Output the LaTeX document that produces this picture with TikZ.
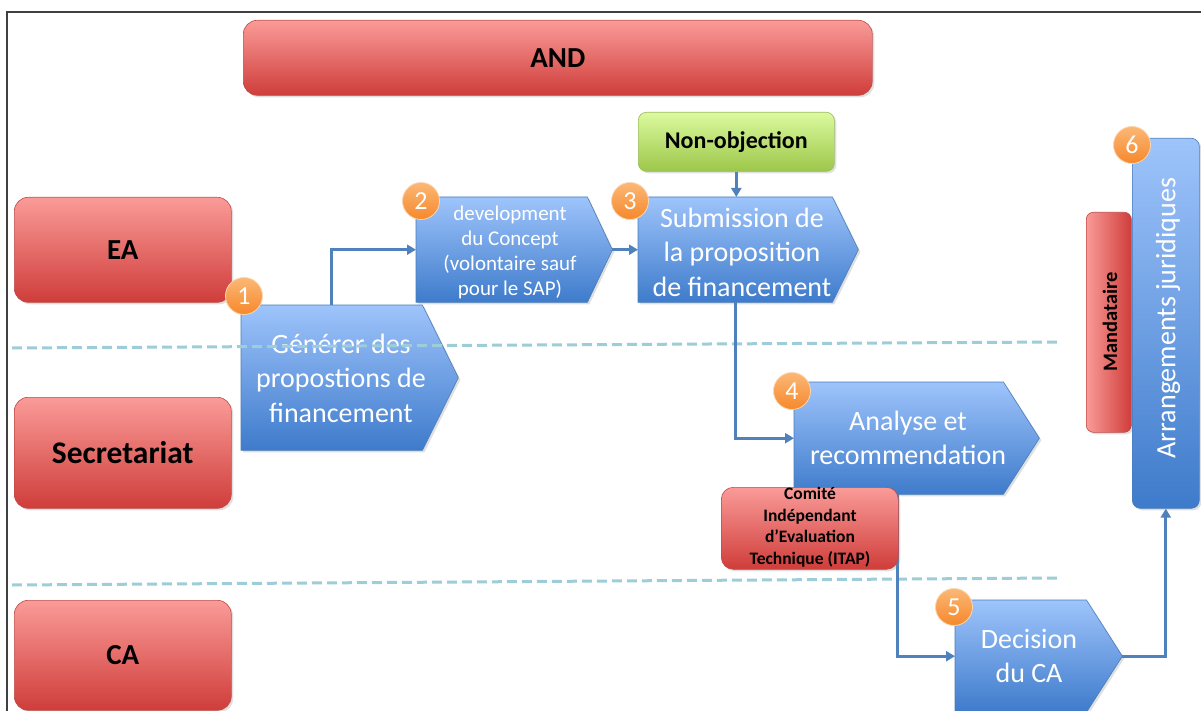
\documentclass[tikz,border=0pt]{standalone}
\usepackage{fontspec}
\usepackage{graphicx}
\setmainfont{Carlito}
\usetikzlibrary{arrows.meta,shadows,calc}
\definecolor{redtop}{RGB}{250,155,152}
\definecolor{redbot}{RGB}{207,61,58}
\definecolor{redline}{RGB}{190,75,72}
\definecolor{bluetop}{RGB}{158,196,251}
\definecolor{bluebot}{RGB}{62,123,203}
\definecolor{blueline}{RGB}{74,125,186}
\definecolor{greentop}{RGB}{219,250,158}
\definecolor{greenbot}{RGB}{157,199,74}
\definecolor{greenline}{RGB}{155,187,89}
\definecolor{badgetop}{RGB}{251,184,118}
\definecolor{badgebot}{RGB}{246,136,44}
\definecolor{badgeline}{RGB}{252,214,176}
\definecolor{flowblue}{RGB}{79,129,189}
\definecolor{dashcol}{RGB}{157,205,216}
\definecolor{framecol}{RGB}{64,64,64}
\tikzset{
  shad/.style={drop shadow={opacity=0.25, shadow xshift=2pt, shadow yshift=-2pt}},
  lane/.style={rounded corners=14pt, draw=redline, line width=0.6pt, top color=redtop, bottom color=redbot, shad,
    font=\fontsize{29}{34}\selectfont\bfseries, inner sep=0pt, anchor=north west},
  body/.style={inner sep=0pt, anchor=north west},
  blueshape/.style={draw=blueline, line width=0.6pt, top color=bluetop, bottom color=bluebot, shad},
  bluetext/.style={text=white, align=center, font=\fontsize{28}{34.5}\selectfont},
  smalltext/.style={text=white, align=center, font=\fontsize{21}{25}\selectfont},
  badge/.style={circle, minimum size=37pt, inner sep=0pt, top color=badgetop, bottom color=badgebot,
    draw=badgeline, line width=0.8pt, text=white, font=\fontsize{26}{26}\selectfont},
  flow/.style={draw=flowblue, line width=3pt, -{Triangle[length=9pt,width=10pt]}},
  lanesep/.style={draw=dashcol, line width=3pt, dash pattern=on 10pt off 5pt},
}
\begin{document}
\begin{tikzpicture}[x=1pt,y=-1pt]
\useasboundingbox (0,0) rectangle (1201,711);
% frame
\draw[framecol, line width=1.3pt] (7,711) -- (7,12) -- (1201,12);
% lanes
\node[lane, minimum width=629pt, minimum height=75pt] (and) at (243,20) {AND};
\node[lane, minimum width=217pt, minimum height=105pt] (ea) at (14,197) {EA};
\node[lane, minimum width=217pt, minimum height=111pt, font=\fontsize{31.5}{36}\selectfont\bfseries] (sec) at (14,397) {Secretariat};
\node[lane, minimum width=217pt, minimum height=110pt] (ca) at (14,600) {CA};
% box 1
\node[body, minimum width=181pt, minimum height=145pt] (b1) at (241,305) {};
\path[blueshape] (b1.north west) -- (b1.north east) -- ([xshift=36pt]b1.east) coordinate (b1tip) -- (b1.south east) -- (b1.south west) -- cycle;
\node[bluetext] (t1) at (341,378) {Générer des\\propostions de\\financement};
% box 2
\node[body, minimum width=171pt, minimum height=105pt] (b2) at (416,197) {};
\path[blueshape] (b2.north west) -- (b2.north east) -- ([xshift=25pt]b2.east) coordinate (b2tip) -- (b2.south east) -- (b2.south west) -- cycle;
\node[smalltext] (t2) at (510,252) {development\\du Concept\\(volontaire sauf\\pour le SAP)};
% box 3
\node[body, minimum width=194pt, minimum height=105pt] (b3) at (638,197) {};
\path[blueshape] (b3.north west) -- (b3.north east) -- ([xshift=26pt]b3.east) coordinate (b3tip) -- (b3.south east) -- (b3.south west) -- cycle;
\node[bluetext] (t3) at (742,252) {Submission de\\la proposition\\de financement};
% non-objection
\node[body, rounded corners=8pt, draw=greenline, line width=0.6pt, top color=greentop, bottom color=greenbot, shad,
  minimum width=196pt, minimum height=59pt, font=\fontsize{24}{28}\selectfont\bfseries] (nonobj) at (638,112) {Non-objection};
% box 4
\node[body, minimum width=209pt, minimum height=112pt] (b4) at (794,382) {};
\path[blueshape] (b4.north west) -- (b4.north east) -- ([xshift=36pt]b4.east) coordinate (b4tip) -- (b4.south east) -- (b4.south west) -- cycle;
\node[bluetext] (t4) at (908,438) {Analyse et\\recommendation};
% box 5
\node[body, minimum width=131pt, minimum height=112pt] (b5) at (955,600) {};
\path[blueshape] (b5.north west) -- (b5.north east) -- ([xshift=36pt]b5.east) coordinate (b5tip) -- (b5.south east) -- (b5.south west) -- cycle;
\node[bluetext] (t5) at (1029,656) {Decision\\du CA};
% mandataire
\node[body, rounded corners=7pt, draw=redline, line width=0.6pt, left color=redtop, right color=redbot, shad,
  minimum width=45pt, minimum height=220pt] (mand) at (1086,212) {};
\node[rotate=90, font=\fontsize{20.5}{24}\selectfont\bfseries] (mandt) at (1110,322) {Mandataire};
% box 6
\node[body, rounded corners=8pt, draw=blueline, line width=0.6pt, top color=bluetop, bottom color=bluebot, shad,
  minimum width=67pt, minimum height=370pt] (b6) at (1132,138) {};
\node[rotate=90, text=white, font=\fontsize{28}{32}\selectfont] (b6t) at (1168,318) {Arrangements juridiques};
% separators
\draw[lanesep] (12,348) -- (1057,342);
\draw[lanesep] (12,585) -- (1057,578);
% connectors
\coordinate (c5start) at (897,494);
\draw[flow] (b1.north) |- (b2.west);
\draw[flow] (b2tip) -- (b3.west);
\draw[flow] (nonobj.south) -- (nonobj.south |- b3.north);
\draw[flow] (b3.south) |- (b4.west);
\draw[flow] (c5start) |- (b5.west);
\draw[flow] (b5tip) -| (b6.south);
% comite
\node[body, rounded corners=12pt, draw=redline, line width=0.6pt, top color=redtop, bottom color=redbot, shad,
  minimum width=177pt, minimum height=82pt] (comite) at (721,487) {};
\node[align=center, font=\fontsize{17.5}{21.5}\selectfont\bfseries] (comitet) at (810,527) {Comité\\Indépendant\\d’Evaluation\\Technique (ITAP)};
% badges
\node[badge] (n1) at (244,296) {1};
\node[badge] (n2) at (421,201) {2};
\node[badge] (n3) at (630,201) {3};
\node[badge] (n4) at (792,391) {4};
\node[badge] (n5) at (954,607) {5};
\node[badge] (n6) at (1132,145) {6};
\end{tikzpicture}
\end{document}
